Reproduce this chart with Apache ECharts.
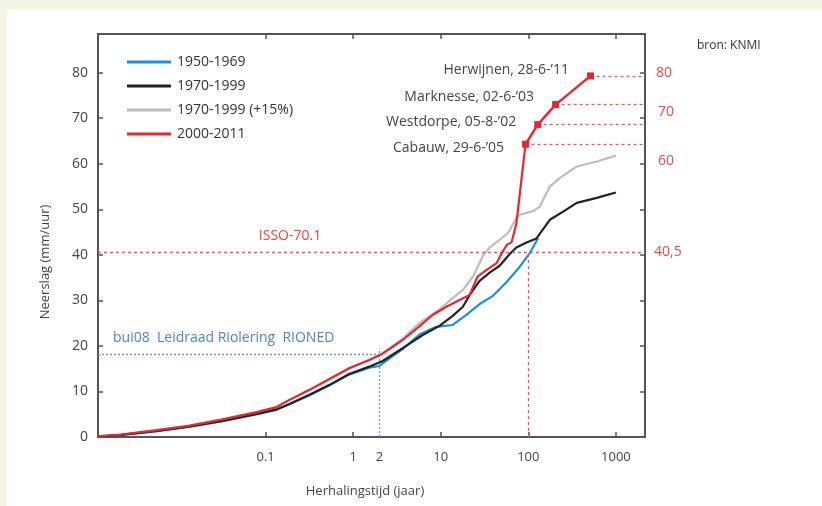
<!DOCTYPE html>
<html>
<head>
<meta charset="utf-8">
<script src="https://cdn.jsdelivr.net/npm/echarts@6/dist/echarts.min.js"></script>
<style>
html,body{margin:0;padding:0;background:#fff;}
#chart{width:822px;height:506px;}
</style>
</head>
<body>
<div id="chart"></div>
<script>
// ---- data (return period in years, precipitation mm/h) ----
const seriesNames = ['1950-1969', '1970-1999', '1970-1999 (+15%)', '2000-2011'];

const tBlue = [0.00123, 0.00225, 0.0055, 0.0132, 0.0315, 0.0773, 0.131, 0.185, 0.313, 0.531, 0.90, 1.525, 2.0, 2.17, 3.67, 5.71, 8.87, 13.7, 19.6, 27.8, 39.5, 56.2, 79.9, 104, 129.5];
const vBlue = [0.1, 0.45, 1.25, 2.2, 3.45, 4.95, 5.95, 7.2, 9.1, 11.3, 13.7, 15.2, 15.6, 16.2, 19.3, 22.5, 24.2, 24.6, 26.8, 29.2, 31.0, 34.0, 37.4, 40.4, 43.7];

const tBlack = [0.00123, 0.00225, 0.0055, 0.0132, 0.0315, 0.0773, 0.131, 0.185, 0.313, 0.531, 0.90, 1.525, 2.17, 3.67, 6.23, 9.67, 13.7, 17.9, 21.4, 27.8, 36.2, 47.1, 61.3, 73.2, 95.3, 124, 176, 250, 357, 605, 1000];
const vBlack = [0.1, 0.45, 1.3, 2.25, 3.5, 5.0, 6.0, 7.2, 9.2, 11.4, 13.85, 15.45, 16.7, 19.5, 22.4, 24.4, 26.6, 28.6, 31.2, 34.3, 36.1, 37.6, 40.2, 41.6, 42.7, 43.6, 47.7, 49.5, 51.4, 52.5, 53.7];

const tGray = [0.00123, 0.00225, 0.0055, 0.0132, 0.0315, 0.0773, 0.131, 0.185, 0.313, 0.531, 0.90, 1.525, 2.17, 3.67, 5.71, 9.67, 13.7, 17.9, 23.3, 30.3, 36.2, 45.0, 58.6, 73.2, 79.9, 113.5, 135.4, 176, 229.5, 357, 605, 1000];
const vGray = [0.15, 0.55, 1.45, 2.45, 3.8, 5.4, 6.5, 8.1, 10.3, 12.7, 15.1, 16.9, 18.4, 21.6, 25.0, 28.0, 30.5, 32.3, 35.2, 39.8, 41.6, 43.0, 44.8, 48.1, 48.8, 49.6, 50.6, 55.0, 56.9, 59.4, 60.5, 61.8];

const tRed = [0.00123, 0.00225, 0.0055, 0.0132, 0.0315, 0.0773, 0.131, 0.185, 0.313, 0.531, 0.90, 1.525, 2.13, 3.67, 5.71, 8.05, 11.6, 16.4, 21.4, 26.3, 33.4, 43.6, 49.8, 56.9, 64.6, 73.2, 93];
const vRed = [0.15, 0.55, 1.45, 2.45, 3.8, 5.4, 6.5, 8.1, 10.3, 12.7, 15.1, 16.9, 18.2, 21.3, 24.3, 26.8, 28.6, 30.1, 31.2, 35.2, 36.7, 38.2, 40.4, 42.2, 42.8, 47.0, 64.3];

const eventNames = ["Cabauw, 29-6-\u201905", "Westdorpe, 05-8-\u201902", "Marknesse, 02-6-\u201903", "Herwijnen, 28-6-\u201911"];
const tEvents = [93, 128, 205, 513];
const vEvents = [64.3, 68.6, 73.0, 79.3];

const xTickValues = [0.1, 1, 10, 100, 1000];
const xLabelValues = [0.1, 1, 2, 10, 100, 1000];
const yTickValues = [0, 10, 20, 30, 40, 50, 60, 70, 80];
const rightLabels = ['80', '70', '60', '40,5'];

const issoValue = 40.5, issoPeriod = 100;
const buiValue = 18.2, buiPeriod = 2;
const xMin = 0.00122, xMax = 2150, yMax = 88.5;

// ---- chart ----
const pairs = (t, v) => t.map((x, i) => [x, v[i]]);
const chart = echarts.init(document.getElementById('chart'), null, {renderer: 'canvas'});
const FONT = '"Open Sans", "Noto Sans", sans-serif';
const AX = '#555';
const labelNudges = [[0, 4], [0, -3], [0, -8], [0, -6]];

function baseX(pos, showLabel) {
  return {
    type: 'log', logBase: 10, min: xMin, max: xMax, position: pos,
    axisLine: {show: true, onZero: false, lineStyle: {color: AX, width: 2}},
    axisTick: {show: true, inside: true, length: 5, customValues: xTickValues, lineStyle: {color: AX, width: 1.5}},
    axisLabel: {show: showLabel, customValues: xLabelValues, color: '#444', fontSize: 13, fontFamily: FONT, margin: 14,
      formatter: v => (v < 0.5 ? '0.1' : String(Math.round(v)))},
    splitLine: {show: false}, minorTick: {show: false}
  };
}
function baseY(pos, showLabel) {
  return {
    type: 'value', min: 0, max: yMax, position: pos,
    axisLine: {show: true, onZero: false, lineStyle: {color: AX, width: 2}},
    axisTick: {show: true, inside: true, length: 5, customValues: yTickValues, lineStyle: {color: AX, width: 1.5}},
    axisLabel: {show: showLabel, customValues: yTickValues, color: '#444', fontSize: 14, fontFamily: FONT, margin: 10},
    splitLine: {show: false}
  };
}

const redDash = {color: '#f25555', type: [3, 3], width: 1.3};
const blueDash = {color: '#5b9bd5', type: [2, 2], width: 1.3};

const option = {
  animation: false,
  backgroundColor: '#ffffff',
  grid: {left: 98, right: 177, top: 34, bottom: 69},
  xAxis: [baseX('bottom', true), baseX('top', false)],
  yAxis: [baseY('left', true), baseY('right', false)],
  legend: {
    data: seriesNames, orient: 'vertical', left: 122, top: 45,
    icon: 'rect', itemWidth: 44, itemHeight: 3, itemGap: 0,
    textStyle: {color: '#333', fontSize: 14, fontFamily: FONT, lineHeight: 24, padding: [0, 0, 0, 1]}
  },
  series: [
    {name: seriesNames[0], type: 'line', data: pairs(tBlue, vBlue), showSymbol: false, symbol: 'none',
     lineStyle: {color: '#1f8fd8', width: 2.2}, itemStyle: {color: '#1f8fd8'}, z: 3,
     markLine: {silent: true, symbol: 'none', label: {show: false}, lineStyle: blueDash,
       data: [
         [{coord: [xMin, buiValue]}, {coord: [buiPeriod, buiValue]}],
         [{coord: [buiPeriod, 0]}, {coord: [buiPeriod, buiValue + 1.3]}]
       ]}},
    {name: seriesNames[2], type: 'line', data: pairs(tGray, vGray), showSymbol: false, symbol: 'none',
     lineStyle: {color: '#bdbdbd', width: 2.2}, itemStyle: {color: '#bdbdbd'}, z: 2},
    {name: seriesNames[1], type: 'line', data: pairs(tBlack, vBlack), showSymbol: false, symbol: 'none',
     lineStyle: {color: '#222222', width: 2.2}, itemStyle: {color: '#222222'}, z: 4},
    {name: seriesNames[3], type: 'line', data: pairs(tRed, vRed), showSymbol: false, symbol: 'none',
     lineStyle: {color: '#e8262e', width: 2.2}, itemStyle: {color: '#e8262e'}, z: 5,
     markLine: {silent: true, symbol: 'none', label: {show: false}, lineStyle: redDash,
       data: [
         [{coord: [xMin, issoValue]}, {coord: [xMax, issoValue]}],
         [{coord: [issoPeriod, 0]}, {coord: [issoPeriod, issoValue]}]
       ]}},
    {name: 'extremes', type: 'line', data: tEvents.map((t, i) => ({value: [t, vEvents[i]],
        label: {offset: labelNudges[i]}})),
     symbol: 'rect', symbolSize: 7, showSymbol: true,
     lineStyle: {color: '#e8262e', width: 2.4}, itemStyle: {color: '#e8262e'}, z: 6,
     label: {show: true, position: 'left', distance: 18, color: '#444', fontSize: 14, fontFamily: FONT,
       formatter: p => eventNames[p.dataIndex]},
     markLine: {silent: true, symbol: 'none', label: {show: false}, lineStyle: redDash,
       data: tEvents.map((t, i) => [{coord: [t, vEvents[i]]}, {coord: [xMax, vEvents[i]]}])}}
  ],
  graphic: [
    {type: 'rect', left: 0, top: 0, shape: {width: 822, height: 10}, style: {fill: '#f4f5e4'}, silent: true},
    {type: 'rect', left: 0, top: 0, shape: {width: 7, height: 506}, style: {fill: '#f4f5e4'}, silent: true},
    {type: 'text', x: 45, y: 262, rotation: Math.PI / 2,
     style: {text: 'Neerslag (mm/uur)', fill: '#444', font: '13px ' + FONT, align: 'center', verticalAlign: 'middle'}},
    {type: 'text', x: 365, y: 491,
     style: {text: 'Herhalingstijd (jaar)', fill: '#444', font: '13px ' + FONT, align: 'center', verticalAlign: 'middle'}},
    {type: 'text', x: 697, y: 46,
     style: {text: 'bron: KNMI', fill: '#333', font: '12px ' + FONT, align: 'left', verticalAlign: 'middle'}},
    {type: 'text', x: 290, y: 236,
     style: {text: 'ISSO-70.1', fill: '#f04040', font: '14px ' + FONT, align: 'center', verticalAlign: 'middle'}},
    {type: 'text', x: 113, y: 338,
     style: {text: 'bui08  Leidraad Riolering  RIONED', fill: '#4f86c0', font: '14px ' + FONT, align: 'left', verticalAlign: 'middle'}},
    {type: 'text', x: 656, y: 73, style: {text: rightLabels[0], fill: '#f04848', font: '14px ' + FONT, verticalAlign: 'middle'}},
    {type: 'text', x: 658, y: 112, style: {text: rightLabels[1], fill: '#f04848', font: '14px ' + FONT, verticalAlign: 'middle'}},
    {type: 'text', x: 658, y: 161, style: {text: rightLabels[2], fill: '#f04848', font: '14px ' + FONT, verticalAlign: 'middle'}},
    {type: 'text', x: 654, y: 252, style: {text: rightLabels[3], fill: '#f04848', font: '14px ' + FONT, verticalAlign: 'middle'}}
  ]
};
chart.setOption(option);
</script>
</body>
</html>
